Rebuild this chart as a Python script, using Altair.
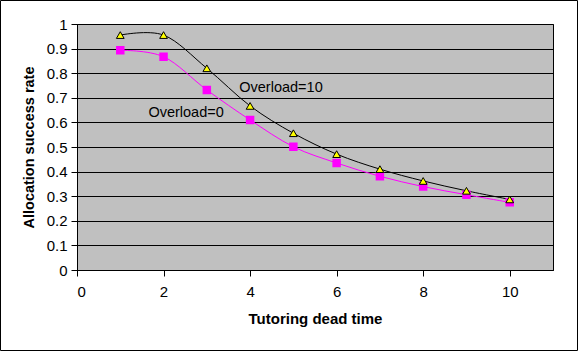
import altair as alt
import pandas as pd

dead_time = [1, 2, 3, 4, 5, 6, 7, 8, 9, 10]
overload10 = [0.955, 0.955, 0.82, 0.667, 0.556, 0.471, 0.41, 0.362, 0.322, 0.287]
overload0 = [0.893, 0.867, 0.732, 0.61, 0.501, 0.435, 0.381, 0.339, 0.306, 0.275]

label_names = ["Overload=10", "Overload=0"]
label_x = [3.75, 1.65]
label_y = [0.74, 0.638]

x_ticks = [0, 2, 4, 6, 8, 10]
y_ticks = [0, 0.1, 0.2, 0.3, 0.4, 0.5, 0.6, 0.7, 0.8, 0.9, 1.0]

df10 = pd.DataFrame({"t": dead_time, "v": overload10})
df0 = pd.DataFrame({"t": dead_time, "v": overload0})
dlab = pd.DataFrame({"t": label_x, "v": label_y, "name": label_names})

W, H = 476, 246

xs = alt.X("t:Q", scale=alt.Scale(domain=[0, 11], nice=False, zero=False),
           axis=alt.Axis(values=x_ticks, title="Tutoring dead time",
                         grid=False, tickSize=6, tickColor="black", domainColor="black",
                         labelFont="Liberation Sans", labelFontSize=15, labelColor="black",
                         labelPadding=8, labelOverlap=False, titleFont="Liberation Sans", titleFontSize=15,
                         titleFontWeight="bold", titleColor="black", titlePadding=12))
ys = alt.Y("v:Q", scale=alt.Scale(domain=[0, 1], nice=False),
           axis=alt.Axis(values=y_ticks, format="~g",
                         title="Allocation success rate", grid=True, gridColor="black",
                         gridOpacity=1, gridWidth=1, tickSize=6, tickColor="black",
                         domainColor="black", labelFont="Liberation Sans", labelFontSize=15,
                         labelColor="black", labelPadding=4, labelOverlap=False,
                         titleFont="Liberation Sans",
                         titleFontSize=14.5, titleFontWeight="bold", titleColor="black",
                         titlePadding=10))

line10 = alt.Chart(df10).mark_line(color="black", strokeWidth=1, interpolate="cardinal").encode(x=xs, y=ys)
pts10 = alt.Chart(df10).mark_point(shape="triangle-up", filled=True, fill="#FFFF00",
                                   stroke="black", strokeWidth=1, size=60, opacity=1).encode(x=xs, y=ys)
line0 = alt.Chart(df0).mark_line(color="#FF00FF", strokeWidth=1, interpolate="cardinal").encode(x=xs, y=ys)
pts0 = alt.Chart(df0).mark_point(shape="square", filled=True, fill="#FF00FF",
                                 stroke="#FF00FF", size=42, opacity=1).encode(x=xs, y=ys)
labels = alt.Chart(dlab).mark_text(align="left", baseline="middle", font="Liberation Sans",
                                   fontSize=14.5, color="black").encode(x=xs, y=ys, text="name:N")

border = alt.Chart(pd.DataFrame({"a": [0]})).mark_rect(fill=None, stroke="black", strokeWidth=1).encode(
    x=alt.value(-76.5), x2=alt.value(W + 24.5), y=alt.value(-23.5), y2=alt.value(H + 80.5))

chart = alt.layer(line10, line0, pts0, pts10, labels, border).properties(
    width=W, height=H,
    autosize=alt.AutoSizeParams(type="none"),
    padding={"left": 77, "top": 24, "right": 25, "bottom": 81},
    background="white",
).configure_view(fill="#C0C0C0", stroke="black", strokeWidth=1)

chart.save("out.html", embed_options={"renderer": "svg", "actions": False})
